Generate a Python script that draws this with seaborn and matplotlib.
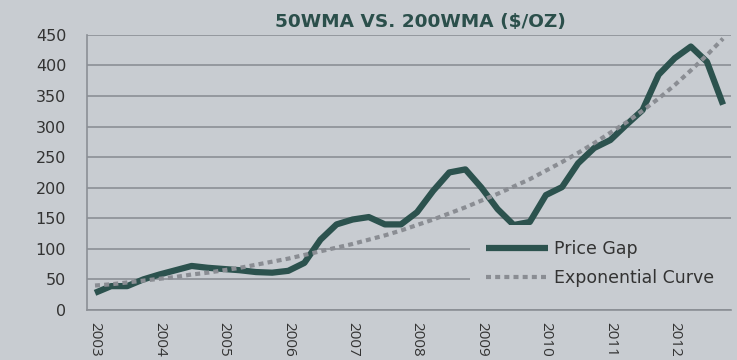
import numpy as np
import pandas as pd
import matplotlib
matplotlib.use("Agg")
import matplotlib.pyplot as plt
import seaborn as sns
from matplotlib.ticker import FixedLocator

# ---- data (quarterly, 2003 Q1 .. 2012 Q4) ----
years = [str(y) for y in range(2003, 2013)]
quarter = list(range(40))
price_gap = [28, 39, 39, 50, 58, 65, 72, 69, 67, 65,
             62, 61, 64, 77, 115, 140, 148, 152, 140, 140,
             160, 195, 225, 230, 200, 165, 139, 144, 188, 201,
             240, 265, 278, 303, 327, 385, 412, 431, 406, 336]
exp_curve = [40, 42, 45, 48, 51, 54, 58, 61, 65, 69,
             74, 79, 84, 90, 96, 102, 108, 115, 122, 130,
             139, 148, 158, 168, 179, 190, 202, 214, 228, 242,
             257, 273, 290, 307, 326, 346, 368, 392, 417, 444]
yticks = [0, 50, 100, 150, 200, 250, 300, 350, 400, 450]

sns.set_style("white")
plt.rcParams['font.family'] = ['DejaVu Sans']

bg = '#c8ccd1'
grid_c = '#8b8f95'
txt_c = '#333333'
fig = plt.figure(figsize=(7.37, 3.6), dpi=100, facecolor=bg)
ax = fig.add_axes([0.118, 0.139, 0.874, 0.764])
ax.set_facecolor(bg)

df = pd.DataFrame({'q': quarter, 'Price Gap': price_gap, 'Exponential Curve': exp_curve})
sns.lineplot(data=df, x='q', y='Price Gap', ax=ax, color='#2c524e', lw=4.5,
             label='Price Gap', zorder=3, solid_joinstyle='round', solid_capstyle='butt')
sns.lineplot(data=df, x='q', y='Exponential Curve', ax=ax, color='#8a8d93', lw=3,
             linestyle=(0, (1.2, 1.0)), dash_capstyle='butt',
             label='Exponential Curve', zorder=4)

ax.set_xlim(-0.5, 39.5)
ax.set_ylim(0, 450)
ax.set_yticks(yticks)
ax.set_yticklabels([str(v) for v in yticks], fontsize=11.5)
ax.yaxis.grid(True, color=grid_c, lw=1.2)
ax.xaxis.grid(False)
ax.set_axisbelow(True)

ax.xaxis.set_major_locator(FixedLocator(list(range(0, 40, 4))))
ax.set_xticklabels(years, rotation=270, fontfamily='Open Sans', fontsize=11)
ax.xaxis.set_minor_locator(FixedLocator([i - 0.5 for i in range(41)]))
ax.tick_params(axis='x', which='major', length=0, pad=9, colors=txt_c)
ax.tick_params(axis='x', which='minor', length=5, width=1.2, color=grid_c, direction='out')
ax.tick_params(axis='y', which='major', length=6, width=1.2, color=grid_c, pad=9,
               labelcolor=txt_c, direction='out')

for s in ['top', 'right']:
    ax.spines[s].set_visible(False)
for s in ['left', 'bottom']:
    ax.spines[s].set_color(grid_c)
    ax.spines[s].set_linewidth(1.2)

ax.set_xlabel('')
ax.set_ylabel('')

leg = ax.legend(loc='upper left', bbox_to_anchor=(0.595, 0.31, 0.41, 0), mode='expand',
                frameon=True, facecolor=bg, edgecolor='none', framealpha=1,
                fontsize=12.5, handlelength=3.6, handletextpad=0.3, labelspacing=0.62,
                borderaxespad=0, borderpad=0.9, labelcolor=txt_c)
leg.get_frame().set_boxstyle('square', pad=0)
leg.set_zorder(5)

fig.text(0.57, 0.915, '50WMA VS. 200WMA ($/OZ)', ha='center', va='bottom',
         fontsize=13.3, fontweight='bold', color='#2b4f4b')

fig.savefig('out.png', dpi=100, facecolor=bg)
